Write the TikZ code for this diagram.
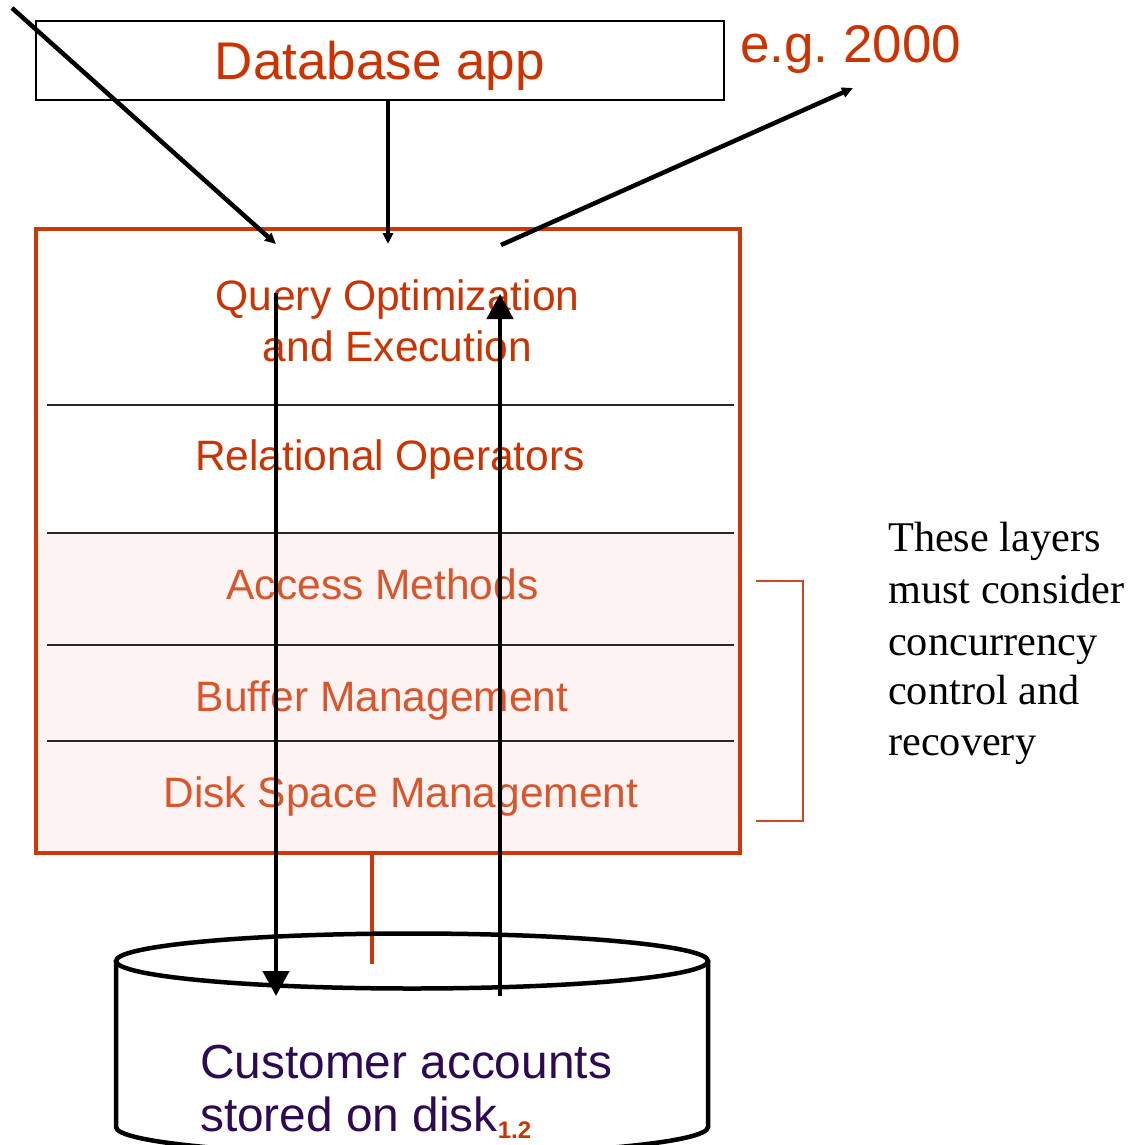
\documentclass[tikz,border=0pt]{standalone}
\usepackage{fontspec}
\setmainfont{Liberation Sans}
\newfontfamily\notefont{Liberation Serif}
\usetikzlibrary{arrows.meta}
\definecolor{textred}{RGB}{204,51,0}
\definecolor{textorange}{RGB}{217,86,44}
\definecolor{boxred}{RGB}{206,56,8}
\definecolor{bracketred}{RGB}{214,70,30}
\definecolor{pinkfill}{RGB}{253,243,242}
\definecolor{sepcol}{RGB}{45,38,38}
\definecolor{diskpurple}{RGB}{46,10,82}
\frenchspacing
\begin{document}
\begin{tikzpicture}[x=1pt,y=-1pt,
  layertext/.style={text=textred, font=\fontsize{42.5}{50}\selectfont, inner sep=0pt, anchor=base},
  lowertext/.style={layertext, text=textorange},
  bigtext/.style={text=textred, font=\fontsize{53}{60}\selectfont, inner sep=0pt},
  notetext/.style={font=\notefont\fontsize{42.3}{51}\selectfont, inner sep=0pt, anchor=base west},
  disktext/.style={text=diskpurple, font=\fontsize{47.8}{54}\selectfont, inner sep=0pt, anchor=base west},
  bigarrow/.style={line width=4.5pt, -{Triangle[length=25pt,width=26pt]}},
  smallarrow/.style={line width=4.5pt, -{Triangle[length=11pt,width=10pt]}},
  sepline/.style={line width=2pt, draw=sepcol},
  cyl/.style={line width=4.5pt, draw=black},
  appbox/.style={draw=black, line width=2pt, minimum width=688pt, minimum height=79pt, inner sep=0pt},
  stackbox/.style={draw=boxred, line width=3.5pt, minimum width=704pt, minimum height=624pt, inner sep=0pt},
  bracketline/.style={draw=bracketred, line width=2.5pt}
]
\useasboundingbox (0,0) rectangle (1131,1145);
\clip (0,0) rectangle (1131,1145);

% lower shaded layers
\fill[pinkfill] (37.75,533) rectangle (738.25,851.25);
% layered system box
\node[stackbox] (stack) at (388,541) {};
% separators
\coordinate (s1a) at (47,405);  \coordinate (s1b) at (734,405);
\coordinate (s2a) at (47,533);  \coordinate (s2b) at (734,533);
\coordinate (s3a) at (47,645);  \coordinate (s3b) at (734,645);
\coordinate (s4a) at (47,741);  \coordinate (s4b) at (734,741);
\draw[sepline] (s1a) -- (s1b);
\draw[sepline] (s2a) -- (s2b);
\draw[sepline] (s3a) -- (s3b);
\draw[sepline] (s4a) -- (s4b);

% layer labels
\node[layertext] (qo1) at (397.5,310) {Query Optimization};
\node[layertext] (qo2) at (397.5,361) {and Execution};
\node[layertext] (relop) at (390,470) {Relational Operators};
\node[lowertext] (access) at (382.5,599) {Access Methods};
\node[lowertext] (buffer) at (382,711) {Buffer Management};
\node[lowertext] (diskspace) at (401,807) {Disk Space Management};

% application box
\node[appbox] (app) at (380,60.5) {};
\node[bigtext, anchor=base] (apptext) at (380,80) {Database app};
\node[bigtext, anchor=base west] (eg) at (740,63) {e.g. 2000};

% bracket
\coordinate (b1) at (756,581);
\coordinate (b2) at (803,581);
\coordinate (b3) at (803,821);
\coordinate (b4) at (756,821);
\draw[bracketline] (b1) -- (b2) -- (b3) -- (b4);

% note
\node[notetext] (n1) at (888,551) {These layers};
\node[notetext] (n2) at (888,603) {must consider};
\node[notetext] (n3) at (888,655) {concurrency};
\node[notetext] (n4) at (888,704) {control and};
\node[notetext] (n5) at (888,755) {recovery};

% connection stack -> disk
\coordinate (link) at (372,964);
\draw[draw=boxred, line width=4.5pt] (stack.south -| link) -- (link);

% disk cylinder
\coordinate (cyltop) at (412,961);
\draw[cyl] (cyltop) ellipse [x radius=296pt, y radius=27.5pt];
\draw[cyl] (116,961) -- (116,1127) arc[start angle=180, end angle=360, x radius=296pt, y radius=28pt] -- (708,961);
\node[disktext] (cust1) at (200,1078) {Customer accounts};
\node[disktext] (cust2) at (200,1131) {stored on disk{\color{textred}\fontsize{24}{24}\selectfont\bfseries\raisebox{-7pt}{1.2}}};

% arrows into the system
\coordinate (d0) at (12,8);
\coordinate (d1) at (276,244);
\draw[smallarrow] (d0) -- (d1);
\coordinate (v1) at (388,244);
\draw[smallarrow] (app.south -| v1) -- (v1);
\coordinate (r0) at (501,245);
\coordinate (r1) at (853,88);
\draw[smallarrow] (r0) -- (r1);

% arrows to and from disk
\coordinate (down0) at (276,293);
\coordinate (down1) at (276,996);
\draw[bigarrow] (down0) -- (down1);
\coordinate (up0) at (500,996);
\coordinate (up1) at (500,294);
\draw[bigarrow] (up0) -- (up1);
\end{tikzpicture}
\end{document}
